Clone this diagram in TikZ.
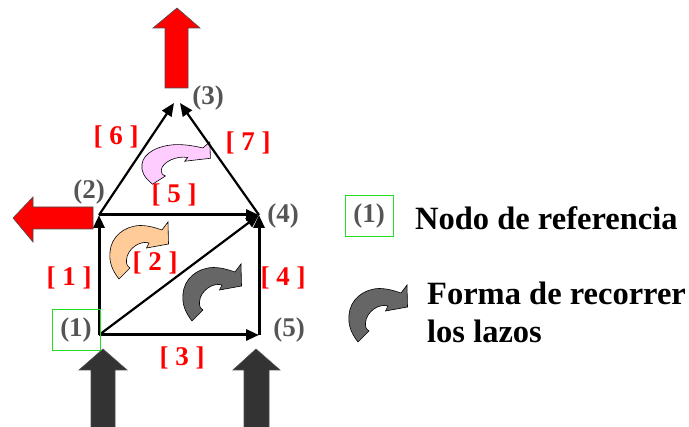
\documentclass[tikz,border=0pt]{standalone}
\usepackage{fontspec}
\setmainfont{Liberation Serif}
\usetikzlibrary{arrows.meta}
\definecolor{redc}{HTML}{FF0000}
\definecolor{darkc}{HTML}{333333}
\definecolor{labgrey}{HTML}{555555}
\definecolor{orangec}{HTML}{FFCC99}
\definecolor{pinkc}{HTML}{FFCCFF}
\definecolor{loopgrey}{HTML}{666666}
\definecolor{greenc}{HTML}{22DD22}
\tikzset{
  edge/.style={line width=3pt, -{Triangle[length=13pt,width=11pt]}},
  thinedge/.style={line width=2.2pt, -{Triangle[length=13pt,width=11pt]}},
  nlabel/.style={text=labgrey, font=\fontsize{27}{31}\selectfont\bfseries, inner sep=0pt},
  elabel/.style={text=redc, font=\fontsize{27}{31}\selectfont\bfseries, inner sep=0pt},
  legtext/.style={text=black, font=\fontsize{32.5}{38}\selectfont\bfseries, inner sep=0pt, anchor=base west},
  refbox/.style={draw=greenc, line width=0.8pt, minimum width=48pt, minimum height=41pt, inner sep=0pt},
  bigarrow/.style={draw=black!70, line width=0.6pt},
  loop arrow/.pic={
    \path[pic actions] (9,57) .. controls (2,48) and (-1,40) .. (0,30)
      .. controls (1,15) and (14,4) .. (30,3.5)
      .. controls (39,3.5) and (46,6) .. (52,8)
      -- (58,0) -- (58.5,22) -- (36.5,26) -- (39,21)
      .. controls (30,18) and (17,27) .. (16.5,38)
      .. controls (16.3,42) and (17,44) .. (20,46) -- cycle;
  }
}
\begin{document}
\begin{tikzpicture}[x=1pt,y=-1pt]
\useasboundingbox (0,0) rectangle (689,427);
% vertices
\coordinate (n1) at (99,335);
\coordinate (n2) at (99,215);
\coordinate (n4) at (259,215);
\coordinate (n5) at (259,335);
\coordinate (n3l) at (174,103);
\coordinate (n3r) at (180,103);
% injection/extraction arrows
\path[bigarrow, fill=redc] (165,88) -- (165,28) -- (153,28) -- (177,8) -- (200,28) -- (188,28) -- (188,88) -- cycle;
\path[bigarrow, fill=redc] (93,207) -- (33,207) -- (33,197) -- (13,218) -- (33,242) -- (33,229) -- (93,229) -- cycle;
\path[bigarrow, fill=darkc] (91,428) -- (91,370) -- (79,370) -- (103,349) -- (127,370) -- (115,370) -- (115,428) -- cycle;
\path[bigarrow, fill=darkc] (244,428) -- (244,370) -- (233,370) -- (256,349) -- (280,370) -- (269,370) -- (269,428) -- cycle;
% loop arrows
\pic[fill=pinkc, draw=black, line width=0.6pt, xscale=1.17, yscale=0.74] at (142,142) {loop arrow};
\pic[fill=orangec, draw=black, line width=0.6pt] at (110,222) {loop arrow};
\pic[fill=loopgrey, draw=black, line width=0.6pt] at (183,264) {loop arrow};
\pic[fill=loopgrey, draw=black, line width=0.6pt] at (349,285) {loop arrow};
% branches
\draw[edge] (n1) -- (n2);
\draw[thinedge] (n1) -- (n4);
\draw[edge] (n1) -- (n5);
\draw[edge] (n5) -- (n4);
\draw[edge] (n2) -- (n4);
\draw[thinedge] (n2) -- (n3l);
\draw[thinedge] (n4) -- (n3r);
% node labels
\node[refbox] (box1) at (76,329.5) {};
\node[nlabel] (l1) at (76,330) {(1)};
\node[nlabel] (l2) at (89,192) {(2)};
\node[nlabel] (l3) at (208,98) {(3)};
\node[nlabel] (l4) at (283,216) {(4)};
\node[nlabel] (l5) at (289,330) {(5)};
% branch labels
\node[elabel] (b1) at (69,278) {[ 1 ]};
\node[elabel] (b2) at (155,263) {[ 2 ]};
\node[elabel] (b3) at (182,358) {[ 3 ]};
\node[elabel] (b4) at (283,278) {[ 4 ]};
\node[elabel] (b5) at (174,195) {[ 5 ]};
\node[elabel] (b6) at (116,137) {[ 6 ]};
\node[elabel] (b7) at (248,143) {[ 7 ]};
% legend
\node[refbox] (legbox) at (369,216) {};
\node[nlabel] (legl1) at (369,216) {(1)};
\node[legtext] (leg1) at (415,230) {Nodo de referencia};
\node[legtext] (leg2a) at (427,305) {Forma de recorrer};
\node[legtext] (leg2b) at (427,343) {los lazos};
\end{tikzpicture}
\end{document}
